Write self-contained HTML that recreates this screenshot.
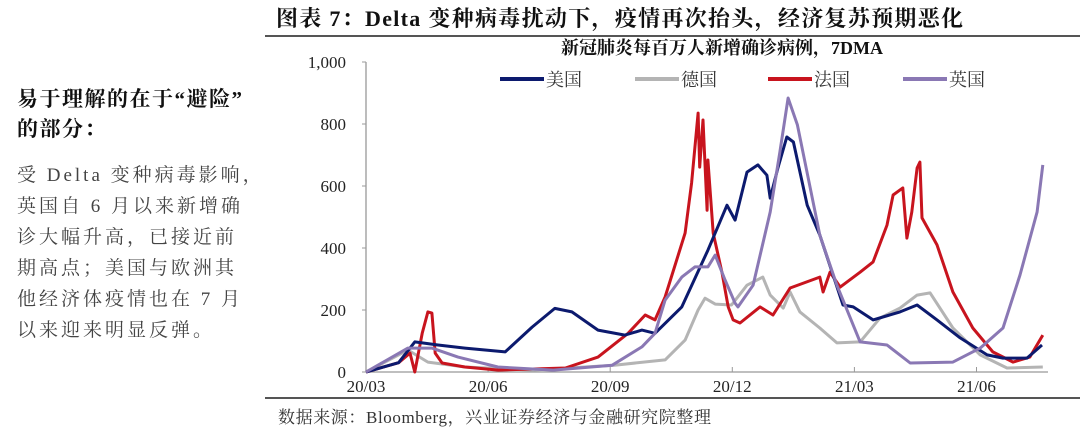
<!DOCTYPE html>
<html><head><meta charset="utf-8"><style>
body{margin:0;background:#fff;}
#wrap{position:relative;width:1080px;height:428px;overflow:hidden;font-family:"Liberation Serif","Noto Serif CJK SC",serif;}
.side{position:absolute;left:17px;color:#444;font-size:19px;letter-spacing:3px;}
</style></head><body>
<div id="wrap">
<div style="position:absolute;left:276px;top:2px;font-size:22px;font-weight:bold;color:#111;letter-spacing:1.3px;">图表 7：Delta 变种病毒扰动下，疫情再次抬头，经济复苏预期恶化</div>
<div style="position:absolute;left:265px;top:35px;width:815px;height:2px;background:#555;"></div>
<div class="side" style="top:84px;font-weight:bold;color:#111;font-size:21px;line-height:30px;letter-spacing:1.5px;">易于理解的在于“避险”<br>的部分：</div>
<div class="side" style="top:160px;line-height:31px;">受 Delta 变种病毒影响，<br>英国自 6 月以来新增确<br>诊大幅升高，已接近前<br>期高点；美国与欧洲其<br>他经济体疫情也在 7 月<br>以来迎来明显反弹。</div>
<div style="position:absolute;left:265px;top:397px;width:815px;height:2px;background:#555;"></div>
<div style="position:absolute;left:278px;top:403px;font-size:17px;color:#333;letter-spacing:0.6px;">数据来源：Bloomberg，兴业证券经济与金融研究院整理</div>
<svg id="chart" width="1080" height="428" style="position:absolute;left:0;top:0"></svg>
</div>
<script>
const seriesNames=["美国","德国","法国","英国"];
const seriesColors=["#0c1a6e","#b4b4b4","#c8141e","#8a78b4"];
const yTicks=[0,200,400,600,800,1000];
const yTickLabels=["0","200","400","600","800","1,000"];
const xTickMonths=[0,3,6,9,12,15];
const xTickLabels=["20/03","20/06","20/09","20/12","21/03","21/06"];
// x = months since 2020-03-01
const usX=[0,0.8,1.2,1.77,2.43,3.42,4.08,4.64,5.06,5.7,6.36,6.78,7.1,7.76,8.4,8.87,9.07,9.36,9.63,9.85,9.93,10.12,10.34,10.5,10.84,11.15,11.72,11.97,12.46,13.12,13.54,14.03,14.6,15.26,15.65,16.24,16.61];
const usY=[0,30,97,87,77,65,145,205,194,135,119,135,125,210,393,538,490,645,668,635,561,658,758,742,538,442,216,210,168,194,216,168,110,55,45,45,87];
const deX=[0,1.03,1.52,2.43,4.1,6.1,7.35,7.84,8.16,8.33,8.58,8.98,9.36,9.75,9.93,10.25,10.42,10.66,11.15,11.57,12.14,12.63,13.12,13.54,13.86,14.42,15.09,15.75,16.63];
const deY=[0,71,32,16,6,22,39,103,200,238,219,216,280,306,248,206,258,194,142,94,97,174,206,248,255,142,55,13,16];
const frX=[0,0.8,1.08,1.2,1.38,1.52,1.62,1.7,1.87,2.43,3.25,4.9,5.7,6.44,6.86,7.1,7.35,7.84,8.0,8.16,8.2,8.28,8.38,8.4,8.53,8.75,8.9,9.02,9.19,9.68,10.0,10.42,11.15,11.23,11.4,11.65,12.14,12.46,12.8,12.95,13.19,13.29,13.41,13.54,13.61,13.66,14.03,14.42,14.91,15.4,15.9,16.31,16.63];
const frY=[0,30,61,0,125,194,190,61,29,16,6,13,48,125,184,168,242,448,610,835,661,813,522,684,448,319,210,168,158,210,184,271,306,258,322,274,322,355,474,571,594,432,516,658,677,497,410,258,142,65,32,48,119];
const ukX=[0,1.03,1.62,2.26,3.24,4.6,6.05,6.78,7.1,7.35,7.76,8.08,8.4,8.58,8.82,9.07,9.14,9.51,9.93,10.17,10.37,10.6,11.15,11.57,12.14,12.8,13.37,14.42,15.09,15.65,16.07,16.49,16.63];
const ukY=[0,77,77,48,16,6,22,81,125,232,306,339,339,377,297,222,210,280,516,710,884,797,442,280,97,87,29,32,77,142,313,516,668];
const allX=[usX,deX,frX,ukX];
const allY=[usY,deY,frY,ukY];
const NS="http://www.w3.org/2000/svg";
const svg=document.getElementById('chart');
const x0=366,pxPerMonth=40.7,yBase=372,pxPerUnit=0.31;
function sx(m){return x0+m*pxPerMonth;}
function sy(v){return yBase-v*pxPerUnit;}
function mk(tag,attrs){const e=document.createElementNS(NS,tag);for(const k in attrs)e.setAttribute(k,attrs[k]);svg.appendChild(e);return e;}
let ct=mk('text',{x:722,y:54,'text-anchor':'middle','font-size':'18','font-weight':'bold',fill:'#111','font-family':'Liberation Serif, Noto Serif CJK SC, serif'});
ct.textContent='新冠肺炎每百万人新增确诊病例，7DMA';


let ax=mk('path',{d:`M${x0} ${sy(1000)} V${yBase} H1048`,stroke:'#999','stroke-width':'1.3',fill:'none'});


yTicks.forEach((v,i)=>{
  mk('line',{x1:x0-4,x2:x0,y1:sy(v),y2:sy(v),stroke:'#999'});
  let t=mk('text',{x:346,y:sy(v)+6,'text-anchor':'end','font-size':'17',fill:'#222','font-family':'Liberation Serif, serif'});
  t.textContent=yTickLabels[i];
  
  
});
xTickMonths.forEach((m,i)=>{
  mk('line',{x1:sx(m),x2:sx(m),y1:yBase-5,y2:yBase,stroke:'#999'});
  let t=mk('text',{x:sx(m),y:392,'text-anchor':'middle','font-size':'17',fill:'#222','font-family':'Liberation Serif, serif'});
  t.textContent=xTickLabels[i];
  
  
});
[1,2,0,3].forEach(i=>{
  const d=allX[i].map((m,j)=>(j?'L':'M')+sx(m).toFixed(1)+' '+sy(allY[i][j]).toFixed(1)).join(' ');
  let p=mk('path',{d:d,stroke:seriesColors[i],'stroke-width':'3',fill:'none','stroke-linejoin':'round'});
  
  
});
const legX=[500,635,768,903];
seriesNames.forEach((n,i)=>{
  let l=mk('line',{x1:legX[i],x2:legX[i]+44,y1:79,y2:79,stroke:seriesColors[i],'stroke-width':'4'});
  
  
  let t=mk('text',{x:legX[i]+46,y:86,'font-size':'18',fill:'#333','font-family':'Liberation Serif, Noto Serif CJK SC, serif'});
  t.textContent=n;
  
  
});
</script>
</body></html>
